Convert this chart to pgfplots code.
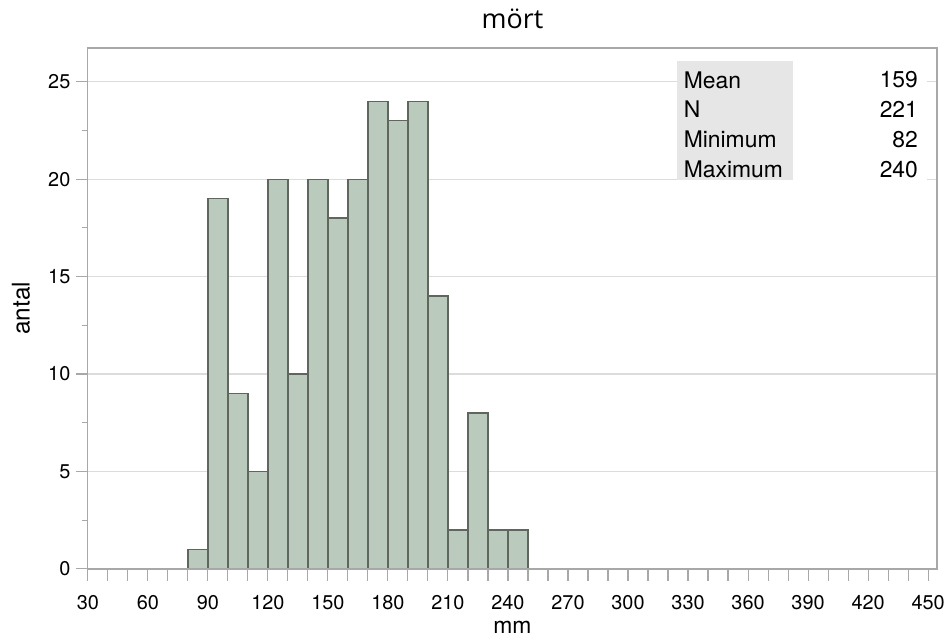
\documentclass[border=0pt]{standalone}
\usepackage{fontspec}
\setmainfont{TeX Gyre Heros}
\newfontfamily\titlefont{Open Sans}
\usepackage{pgfplots}
\pgfplotsset{compat=1.18}

\definecolor{axisgray}{HTML}{A8A8A8}
\definecolor{gridgray}{HTML}{DCDCDC}
\definecolor{statgray}{HTML}{E6E6E6}
\definecolor{barfill}{HTML}{BACABC}
\definecolor{baredge}{HTML}{5E665E}

\begin{document}
\begin{tikzpicture}
\begin{axis}[
  scale only axis,
  width=851bp, height=522bp,
  xmin=30, xmax=454.5,
  ymin=0, ymax=26.74,
  axis line style={draw=axisgray, line width=1.3bp},
  tick style={draw=axisgray, line width=1.1bp},
  tick align=outside,
  tick pos=left,
  major tick length=12bp,
  minor tick length=6bp,
  xtick={30,40,...,450},
  xticklabels={30,,,60,,,90,,,120,,,150,,,180,,,210,,,240,,,270,,,300,,,330,,,360,,,390,,,420,,,450},
  ytick={0,5,...,25},
  minor ytick={2.5,7.5,...,22.5},
  ymajorgrids,
  grid style={draw=gridgray, line width=1.3bp},
  /pgf/number format/assume math mode=true,
  ticklabel style={font=\fontsize{20}{24}\selectfont},
  xticklabel style={yshift=-11bp},
  yticklabel style={xshift=-2bp},
  title={mört},
  title style={font=\titlefont\fontsize{27}{31}\selectfont, at={(axis description cs:0.5,1.0249)}, anchor=base, yshift=0pt, inner sep=0pt},
  xlabel={mm},
  xlabel style={font=\fontsize{23}{27}\selectfont, at={(axis description cs:0.5,-0.1245)}, anchor=base, inner sep=0pt},
  ylabel={antal},
  ylabel style={font=\fontsize{24.5}{28}\selectfont, at={(axis description cs:-0.0787,0.5)}, anchor=center, inner sep=0pt},
]
% histogram of lengths, 10 mm bins from 80 to 250
\addplot[ybar interval, fill=barfill, draw=baredge, line width=1.4bp] coordinates {
  (80,1) (90,19) (100,9) (110,5) (120,20) (130,10) (140,20) (150,18)
  (160,20) (170,24) (180,23) (190,24) (200,14) (210,2) (220,8) (230,2)
  (240,2) (250,0)
};
% summary statistics table
\fill[white] (axis cs:324.3,19.86) rectangle (axis cs:449.6,26.1);
\fill[statgray] (axis cs:324.3,19.98) rectangle (axis cs:382.6,26.08);
\begin{scope}[font=\fontsize{23}{27}\selectfont]
  \node[anchor=west, inner sep=0pt] at (axis cs:327.8,25.1) {Mean};
  \node[anchor=west, inner sep=0pt] at (axis cs:327.8,23.57) {N};
  \node[anchor=west, inner sep=0pt] at (axis cs:327.8,22.03) {Minimum};
  \node[anchor=west, inner sep=0pt] at (axis cs:327.8,20.49) {Maximum};
  \node[anchor=east, inner sep=0pt] at (axis cs:445,25.1) {159};
  \node[anchor=east, inner sep=0pt] at (axis cs:445,23.57) {221};
  \node[anchor=east, inner sep=0pt] at (axis cs:445,22.03) {82};
  \node[anchor=east, inner sep=0pt] at (axis cs:445,20.49) {240};
\end{scope}
\end{axis}
\draw[axisgray, line width=1.3bp] (current axis.south west) rectangle (current axis.north east);
\path (current axis.south west) ++(-88bp,-70bp) coordinate (bbA);
\path (current axis.north east) ++(9bp,48bp) coordinate (bbB);
\path (bbA) rectangle (bbB);
\end{tikzpicture}
\end{document}
